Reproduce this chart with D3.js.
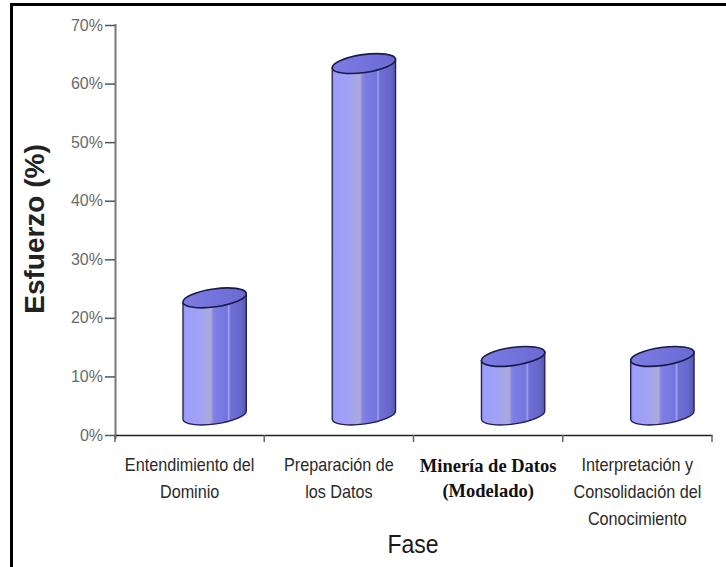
<!DOCTYPE html>
<html>
<head>
<meta charset="utf-8">
<script src="https://cdn.jsdelivr.net/npm/d3@7/dist/d3.min.js"></script>
<style>
  html, body { margin: 0; padding: 0; background: #fff; }
  svg { display: block; }
</style>
</head>
<body>
<svg id="chart" width="726" height="567"></svg>
<script>
// Effort per phase of a knowledge-discovery project
const categories = [
  "Entendimiento del\nDominio",
  "Preparación de\nlos Datos",
  "Minería de Datos\n(Modelado)",
  "Interpretación y\nConsolidación del\nConocimiento"
];
const effort = [20, 60, 10, 10];
const yTicks = [0, 10, 20, 30, 40, 50, 60, 70];
const yTitle = "Esfuerzo (%)";
const xTitle = "Fase";
const emphasizedCategory = "Minería de Datos\n(Modelado)";

const svg = d3.select("#chart");
const W = 726, H = 567;

const plot = { left: 115, right: 712, top: 25, bottom: 435 };
const depth = { dx: 25, dy: -20 };   // oblique offset of the 3D columns
const colR = { rx: 32, ry: 9, rot: -8 };

const x = d3.scaleBand().domain(categories).range([plot.left, plot.right]).padding(0);
const y = d3.scaleLinear().domain([0, 70]).range([plot.bottom, plot.top]);

// frame (left and top edges)
svg.append("path")
  .attr("d", `M11.5,${H} V4.5 H${W}`)
  .attr("fill", "none").attr("stroke", "#000").attr("stroke-width", 3);

// gradients for column bodies and tops
const defs = svg.append("defs");
const bodyGrad = defs.append("linearGradient").attr("id", "colBody")
  .attr("x1", "0").attr("x2", "1").attr("y1", "0").attr("y2", "0");
[
  [0.00, "#9595ee"], [0.06, "#9e9efb"], [0.28, "#a2a2f4"], [0.44, "#ababd6"],
  [0.47, "#8a8ae4"], [0.50, "#7e7ee6"], [0.70, "#7474de"], [0.72, "#a4a4ee"],
  [0.75, "#6f6fd6"], [0.92, "#6666c8"], [1.00, "#5555ad"]
].forEach(([o, c]) => bodyGrad.append("stop").attr("offset", o).attr("stop-color", c));

const topGrad = defs.append("linearGradient").attr("id", "colTop")
  .attr("x1", "0").attr("x2", "1").attr("y1", "0").attr("y2", "0");
[[0, "#7b7be0"], [0.5, "#7373dc"], [1, "#6a6ad2"]]
  .forEach(([o, c]) => topGrad.append("stop").attr("offset", o).attr("stop-color", c));

// y axis
const yAxis = svg.append("g")
  .attr("transform", `translate(${plot.left},0)`)
  .call(d3.axisLeft(y).tickValues(yTicks).tickFormat(d => d + "%").tickSize(10).tickPadding(2).tickSizeOuter(0));
yAxis.select(".domain").attr("stroke", "#777").attr("stroke-width", 2)
  .attr("d", `M0.5,${plot.top - 1}V${plot.bottom + 4}`);
yAxis.selectAll(".tick line").attr("stroke", "#555").attr("stroke-width", 1.5);
yAxis.selectAll(".tick text")
  .attr("font-family", "'Liberation Sans', Arial, sans-serif")
  .attr("font-size", 16).attr("fill", "#6a6a6a");

// x axis line and category boundary ticks
const xAxis = svg.append("g")
  .attr("transform", `translate(0,${plot.bottom})`)
  .call(d3.axisBottom(x).tickSize(0).tickFormat(""));
xAxis.select(".domain").attr("stroke", "#222").attr("stroke-width", 1.5);
const bounds = categories.map(c => x(c)).concat([x.range()[1]]);
svg.append("g").selectAll("line").data(bounds).join("line")
  .attr("x1", d => d).attr("x2", d => d)
  .attr("y1", plot.bottom).attr("y2", plot.bottom + 7)
  .attr("stroke", "#666").attr("stroke-width", 1.5);

// category labels (narrow sans; the modelling phase in bold serif)
const labels = svg.append("g");
categories.forEach(c => {
  const isEm = c === emphasizedCategory;
  const cx = x(c) + x.bandwidth() / 2;
  const t = labels.append("text")
    .attr("transform", `translate(${cx},${isEm ? 472 : 471}) scale(${isEm ? 1 : 0.9},1)`)
    .attr("text-anchor", "middle")
    .attr("fill", isEm ? "#111" : "#2a2a2a")
    .attr("font-family", isEm ? "'Liberation Serif', 'Times New Roman', serif" : "'Liberation Sans', Arial, sans-serif")
    .attr("font-weight", isEm ? "bold" : "normal")
    .attr("font-size", isEm ? 18.5 : 18);
  c.split("\n").forEach((line, i) => {
    t.append("tspan").attr("x", 0)
      .attr("dy", i === 0 ? 0 : (isEm ? 25 : 27)).text(line);
  });
});

// columns
const rad = colR.rot * Math.PI / 180;
const ex = colR.rx * Math.cos(rad), ey = colR.rx * Math.sin(rad);
const cols = svg.append("g").selectAll("g").data(categories.map((c, i) => ({ c, v: effort[i] }))).join("g");

cols.append("path")
  .attr("d", d => {
    const cx = x(d.c) + x.bandwidth() / 2 + depth.dx;
    const yt = y(d.v) + depth.dy, yb = y(0) + depth.dy;
    return `M${cx - ex},${yt - ey} L${cx - ex},${yb - ey}` +
      ` A${colR.rx},${colR.ry} ${colR.rot} 0 0 ${cx + ex},${yb + ey}` +
      ` L${cx + ex},${yt + ey} Z`;
  })
  .attr("fill", "url(#colBody)")
  .attr("stroke", "#1e1e50").attr("stroke-width", 1.3);

cols.append("ellipse")
  .attr("cx", 0).attr("cy", 0)
  .attr("rx", colR.rx).attr("ry", colR.ry)
  .attr("transform", d => {
    const cx = x(d.c) + x.bandwidth() / 2 + depth.dx;
    return `translate(${cx},${y(d.v) + depth.dy}) rotate(${colR.rot})`;
  })
  .attr("fill", "url(#colTop)")
  .attr("stroke", "#1a1a48").attr("stroke-width", 1.6);

// axis titles
svg.append("text")
  .attr("transform", `translate(44,229) rotate(-90)`)
  .attr("text-anchor", "middle")
  .attr("font-family", "'Liberation Sans', Arial, sans-serif")
  .attr("font-weight", "bold").attr("font-size", 28).attr("fill", "#222")
  .text(yTitle);

svg.append("text")
  .attr("transform", "translate(413,553) scale(0.92,1)")
  .attr("text-anchor", "middle")
  .attr("font-family", "'Liberation Sans', Arial, sans-serif")
  .attr("font-size", 25).attr("fill", "#1a1a1a")
  .text(xTitle);
</script>
</body>
</html>
